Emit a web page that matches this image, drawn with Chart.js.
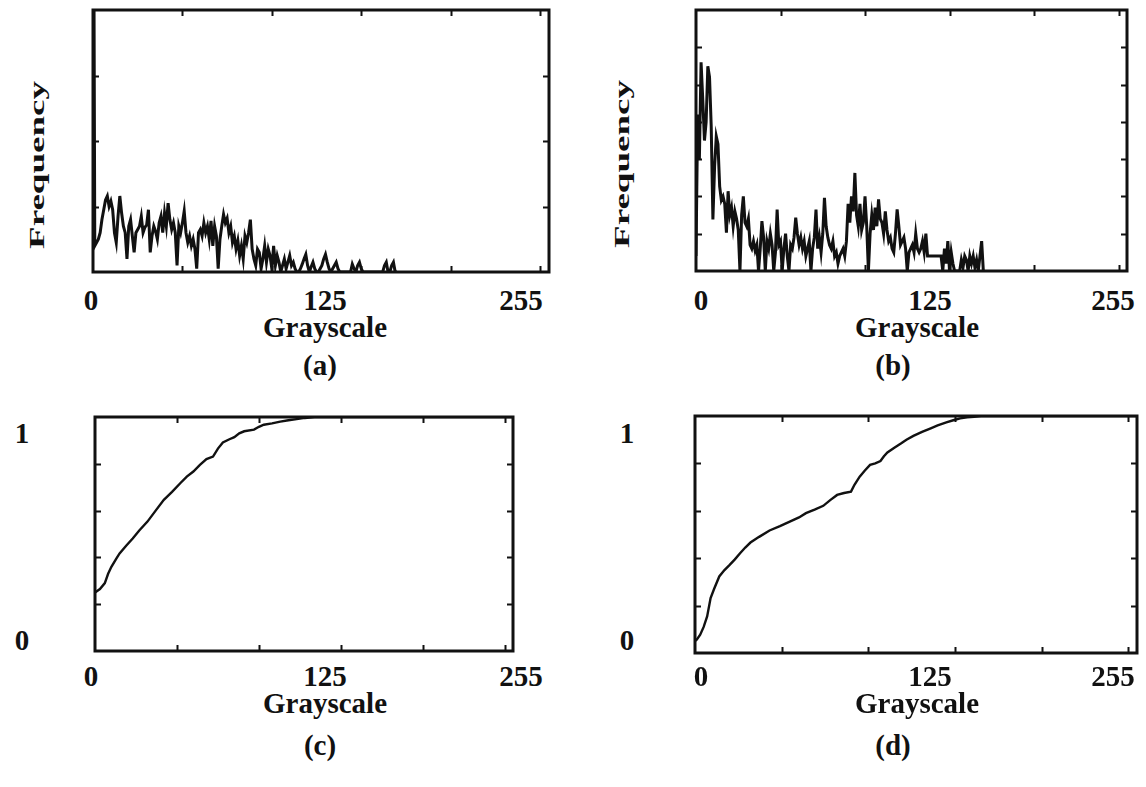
<!DOCTYPE html>
<html lang="en">
  <head>
    <meta charset="UTF-8">
    <title>Grayscale histograms</title>
    <script src="https://cdn.jsdelivr.net/npm/chart.js@4.4.1/dist/chart.umd.min.js"></script>
    <style>
      html, body { margin: 0; padding: 0; background: #fff; }
      #page { position: relative; width: 1146px; height: 787px; overflow: hidden; }
      .panel { position: absolute; }
      .lbl {
        position: absolute;
        font-family: "Liberation Serif", "Times New Roman", serif;
        font-weight: bold;
        font-size: 29px;
        line-height: 1;
        color: #111;
        white-space: nowrap;
        transform: translate(-50%, -50%);
      }
      .vlbl {
        font-size: 20px;
        transform: translate(-50%, -50%) rotate(-90deg) scaleX(1.85);
      }
    </style>
  </head>
  <body>
    <div id="page"></div>
    <script>
      // grey level histograms, counts per level starting at 0
      const histA = [
        900, 40, 45, 50, 60, 80, 95, 110, 116, 100,
        108, 95, 60, 45, 85, 116, 90, 70, 60, 20,
        70, 80, 55, 30, 60, 65, 70, 85, 60, 68,
        72, 95, 30, 55, 70, 62, 50, 75, 85, 60,
        90, 70, 105, 80, 65, 75, 60, 10, 70, 60,
        75, 93, 60, 45, 55, 40, 50, 35, 5, 60,
        65, 55, 75, 60, 70, 50, 78, 40, 70, 55,
        5, 50, 70, 88, 75, 82, 60, 70, 45, 55,
        35, 48, 25, 40, 20, 55, 45, 60, 80, 35,
        20, 10, 35, 30, 5, 20, 40, 15, 35, 25,
        5, 40, 10, 25, 15, 0, 10, 20, 5, 15,
        25, 10, 15, 5, 0, 0, 5, 12, 20, 27,
        10, 0, 8, 15, 5, 0, 0, 5, 10, 20,
        27, 15, 5, 0, 5, 10, 15, 5, 0, 0,
        0, 0, 0, 0, 0, 12, 5, 0, 10, 15,
        5, 0, 0, 0, 0, 0, 0, 0, 0, 0,
        0, 0, 0, 10, 15, 0, 0, 10, 15, 0,
        0
      ];
      const histB = [
        40, 420, 300, 560, 460, 350, 400, 549, 520, 388,
        138, 280, 361, 340, 227, 190, 200, 180, 103, 214,
        150, 170, 120, 160, 140, 110, 0, 150, 200, 130,
        120, 140, 70, 60, 80, 55, 70, 0, 60, 134,
        90, 0, 80, 60, 100, 70, 0, 50, 165, 70,
        80, 0, 60, 100, 40, 0, 70, 60, 90, 143,
        100, 70, 90, 60, 80, 40, 60, 80, 0, 60,
        90, 165, 60, 90, 50, 100, 196, 120, 90, 70,
        60, 80, 40, 50, 20, 40, 50, 60, 40, 80,
        180, 130, 200, 160, 263, 150, 120, 180, 110, 130,
        200, 120, 0, 100, 150, 110, 170, 120, 192, 140,
        130, 100, 160, 110, 80, 90, 60, 50, 100, 165,
        120, 70, 80, 90, 60, 0, 50, 60, 70, 50,
        100, 60, 50, 60, 80, 50, 100, 40, 40, 40,
        40, 40, 40, 40, 40, 40, 0, 60, 20, 80,
        0, 50, 20, 0, 0, 0, 0, 30, 10, 40,
        30, 0, 40, 20, 40, 10, 30, 0, 40, 80,
        0
      ];

      // cumulative distributions
      const grayC = [0, 3, 6, 8, 10, 13, 15, 19, 23, 27, 32, 37, 42, 47, 52, 56, 60, 64, 68, 72,
                     75, 78, 82, 85, 88, 91, 97, 100, 103, 108, 113, 118, 123, 128, 134, 255];
      const cumC = [0.25, 0.265, 0.29, 0.33, 0.36, 0.395, 0.417, 0.45, 0.481, 0.515, 0.553, 0.6,
                    0.646, 0.68, 0.717, 0.745, 0.767, 0.795, 0.82, 0.831, 0.865, 0.891, 0.905,
                    0.914, 0.93, 0.939, 0.946, 0.958, 0.967, 0.973, 0.98, 0.986, 0.991, 0.996, 1, 1];
      const grayD = [0, 1, 3, 5, 7, 9, 11, 14, 17, 20, 23, 26, 29, 32, 37, 43, 49, 55, 60, 64, 69,
                     74, 78, 82, 86, 90, 92, 95, 98, 101, 104, 107, 109, 111, 115, 119, 122, 126,
                     131, 136, 140, 145, 149, 153, 157, 161, 165, 255];
      const cumD = [0.05, 0.056, 0.077, 0.11, 0.154, 0.232, 0.27, 0.323, 0.35, 0.372, 0.395, 0.421,
                    0.445, 0.466, 0.49, 0.517, 0.535, 0.555, 0.572, 0.59, 0.605, 0.621, 0.645,
                    0.667, 0.675, 0.681, 0.71, 0.744, 0.77, 0.794, 0.8, 0.81, 0.83, 0.846, 0.866,
                    0.885, 0.9, 0.916, 0.933, 0.948, 0.96, 0.973, 0.982, 0.99, 0.994, 0.997, 1, 1];

      // tick positions (inward marks) and printed axis numbers
      const grayTicks = [50, 100, 150, 200, 250];
      const freqTicksA = [100, 200, 300];
      const freqTicksB = [100, 200, 300, 400, 500, 600];
      const cumTicks = [0.2, 0.4, 0.6, 0.8];
      const grayLabels = ['0', '125', '255'];
      const cumLabels = ['1', '0'];

      const page = document.getElementById('page');

      function label(text, cx, cy, cls) {
        var d = document.createElement('div');
        d.className = 'lbl' + (cls ? ' ' + cls : '');
        d.textContent = text;
        d.style.left = cx + 'px';
        d.style.top = cy + 'px';
        page.appendChild(d);
      }

      // frame + little inward ticks on all four sides
      const framePlugin = {
        id: 'frame',
        afterDraw(chart, args, opts) {
          const ctx = chart.ctx, a = chart.chartArea;
          const xs = chart.scales.x, ys = chart.scales.y;
          ctx.save();
          ctx.strokeStyle = '#111';
          ctx.lineWidth = 2;
          ctx.beginPath();
          opts.xTicks.forEach(v => {
            const px = Math.round(xs.getPixelForValue(v)) + 0.5;
            ctx.moveTo(px, a.bottom); ctx.lineTo(px, a.bottom - 6);
            ctx.moveTo(px, a.top); ctx.lineTo(px, a.top + 6);
          });
          opts.yTicks.forEach(v => {
            const py = Math.round(ys.getPixelForValue(v)) + 0.5;
            ctx.moveTo(a.left, py); ctx.lineTo(a.left + 6, py);
            ctx.moveTo(a.right, py); ctx.lineTo(a.right - 6, py);
          });
          ctx.stroke();
          ctx.lineWidth = 3;
          ctx.strokeRect(a.left, a.top, a.right - a.left, a.bottom - a.top);
          ctx.restore();
        }
      };

      function panel(box, points, yMax, yTicks, lineWidth) {
        const pad = 8;
        const holder = document.createElement('div');
        holder.className = 'panel';
        holder.style.left = (box.left - pad) + 'px';
        holder.style.top = (box.top - pad) + 'px';
        const canvas = document.createElement('canvas');
        canvas.width = box.right - box.left + 2 * pad;
        canvas.height = box.bottom - box.top + 2 * pad;
        holder.appendChild(canvas);
        page.appendChild(holder);

        new Chart(canvas, {
          type: 'line',
          data: {
            datasets: [{
              data: points,
              borderColor: '#111',
              borderWidth: lineWidth,
              pointRadius: 0,
              tension: 0,
              fill: false,
              clip: 0
            }]
          },
          options: {
            responsive: false,
            animation: false,
            layout: { padding: pad },
            scales: {
              x: { type: 'linear', min: 0, max: 255, display: false },
              y: { type: 'linear', min: 0, max: yMax, display: false }
            },
            plugins: {
              legend: { display: false },
              tooltip: { enabled: false },
              frame: { xTicks: grayTicks, yTicks: yTicks }
            }
          },
          plugins: [framePlugin]
        });
      }

      const toPoints = (xs, ys) => xs.map((x, i) => ({ x: x, y: ys[i] }));
      const histPoints = h => h.map((v, g) => ({ x: g, y: v }));

      panel({ left: 93, top: 10, right: 549, bottom: 272 }, histPoints(histA), 400, freqTicksA, 3);
      panel({ left: 696, top: 10, right: 1127, bottom: 271 }, histPoints(histB), 700, freqTicksB, 3);
      panel({ left: 95, top: 417, right: 513, bottom: 651 }, toPoints(grayC, cumC), 1, cumTicks, 2.4);
      panel({ left: 695, top: 416, right: 1137, bottom: 653 }, toPoints(grayD, cumD), 1, cumTicks, 2.4);

      // axis text
      label('Frequency', 37, 165, 'vlbl');
      label('Frequency', 622, 164, 'vlbl');

      // centres: number row y, title y, caption y, then x for 0 / 125 / 255 / Grayscale / caption
      [[300, 327, 365, 91, 325, 521, 325, 320, '(a)'],
       [300, 327, 365, 701, 930, 1113, 917, 893, '(b)'],
       [676, 703, 745, 91, 325, 521, 325, 320, '(c)'],
       [676, 703, 745, 701, 930, 1113, 917, 893, '(d)']].forEach(r => {
        label(grayLabels[0], r[3], r[0]);
        label(grayLabels[1], r[4], r[0]);
        label(grayLabels[2], r[5], r[0]);
        label('Grayscale', r[6], r[1]);
        label(r[8], r[7], r[2]);
      });

      label(cumLabels[0], 22, 433);
      label(cumLabels[1], 22, 640);
      label(cumLabels[0], 627, 433);
      label(cumLabels[1], 627, 640);
    </script>
  </body>
</html>
